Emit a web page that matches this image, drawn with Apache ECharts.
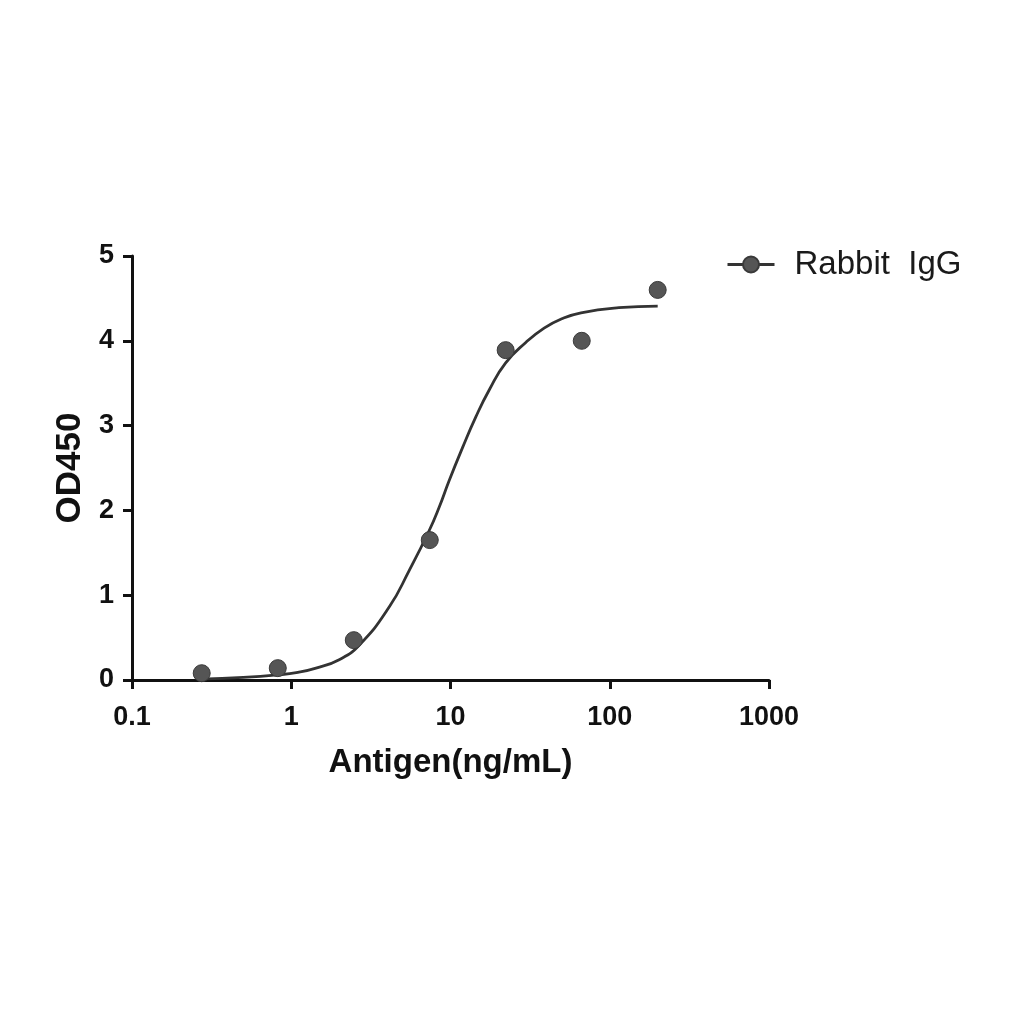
<!DOCTYPE html>
<html lang="en">
<head>
    <meta charset="UTF-8">
    <title>OD450 vs Antigen</title>
    <style>
        html, body {
            margin: 0;
            width: 100%;
            height: 100%;
            background: #fff;
        }
        #chart {
            width: 1024px;
            height: 1024px;
        }
    </style>
</head>
<body>
<div id="chart"></div>
<script src="https://cdn.jsdelivr.net/npm/echarts@6/dist/echarts.min.js"></script>
<script type="text/javascript">
    // measured points (3-fold dilution)
    var conc = [0.274, 0.823, 2.47, 7.41, 22.2, 66.7, 200];
    var od = [0.08, 0.14, 0.47, 1.65, 3.89, 4.00, 4.60];

    // fitted curve
    var fitX = [0.27, 0.5, 0.82, 1.1, 1.43, 2.0, 2.67, 4.12, 5.5, 7.34, 8.5, 9.8, 11.9, 14.4, 17.5, 22.2, 29.7, 38.7, 50, 66, 114, 200];
    var fitY = [0.01, 0.03, 0.06, 0.09, 0.14, 0.24, 0.41, 0.86, 1.29, 1.76, 2.04, 2.35, 2.74, 3.10, 3.42, 3.74, 3.98, 4.15, 4.26, 4.33, 4.39, 4.41];

    var seriesName = 'Rabbit  IgG';

    function pairs(xs, ys) {
        var out = [];
        for (var i = 0; i < xs.length; i++) {
            out.push([xs[i], ys[i]]);
        }
        return out;
    }

    var myChart = echarts.init(document.getElementById('chart'));
    var labelFont = {
        fontFamily: 'Liberation Sans, Arial, sans-serif',
        fontWeight: 'bold',
        color: '#111'
    };

    var option = {
        backgroundColor: '#fff',
        animation: false,
        grid: {
            left: 132,
            right: 255,
            top: 256,
            bottom: 344
        },
        legend: {
            left: 721,
            top: 243,
            itemWidth: 47,
            itemHeight: 20,
            data: [seriesName],
            lineStyle: {width: 3, color: '#333'},
            textStyle: {
                fontFamily: 'Liberation Sans, Arial, sans-serif',
                fontSize: 33,
                color: '#1a1a1a',
                padding: [0, 0, 0, 15]
            }
        },
        xAxis: {
            type: 'log',
            logBase: 10,
            min: 0.1,
            max: 1000,
            name: 'Antigen(ng/mL)',
            nameLocation: 'middle',
            nameGap: 66,
            nameTextStyle: Object.assign({fontSize: 33}, labelFont),
            axisLine: {lineStyle: {color: '#111', width: 3}},
            axisTick: {show: true, length: 9, lineStyle: {color: '#111', width: 3}},
            minorTick: {show: false},
            splitLine: {show: false},
            axisLabel: Object.assign({fontSize: 27, margin: 24, formatter: function (v) { return String(v); }}, labelFont)
        },
        yAxis: {
            type: 'value',
            min: 0,
            max: 5,
            interval: 1,
            name: 'OD450',
            nameLocation: 'middle',
            nameGap: 38,
            nameRotate: 90,
            nameTextStyle: Object.assign({fontSize: 35}, labelFont),
            axisLine: {show: true, lineStyle: {color: '#111', width: 3}},
            axisTick: {show: true, length: 9, lineStyle: {color: '#111', width: 3}},
            splitLine: {show: false},
            axisLabel: Object.assign({fontSize: 27, margin: 18}, labelFont)
        },
        series: [
            {
                name: seriesName,
                type: 'line',
                smooth: 0.5,
                symbol: 'circle',
                symbolSize: 16,
                showSymbol: false,
                itemStyle: {color: '#555', borderColor: '#3a3a3a', borderWidth: 1},
                lineStyle: {color: '#333', width: 2.8},
                data: pairs(fitX, fitY),
                z: 2
            },
            {
                name: seriesName,
                type: 'scatter',
                symbol: 'circle',
                symbolSize: 17,
                itemStyle: {color: '#555', opacity: 1, borderColor: '#3a3a3a', borderWidth: 1},
                data: pairs(conc, od),
                z: 3
            }
        ]
    };

    myChart.setOption(option, true);
</script>
</body>
</html>
